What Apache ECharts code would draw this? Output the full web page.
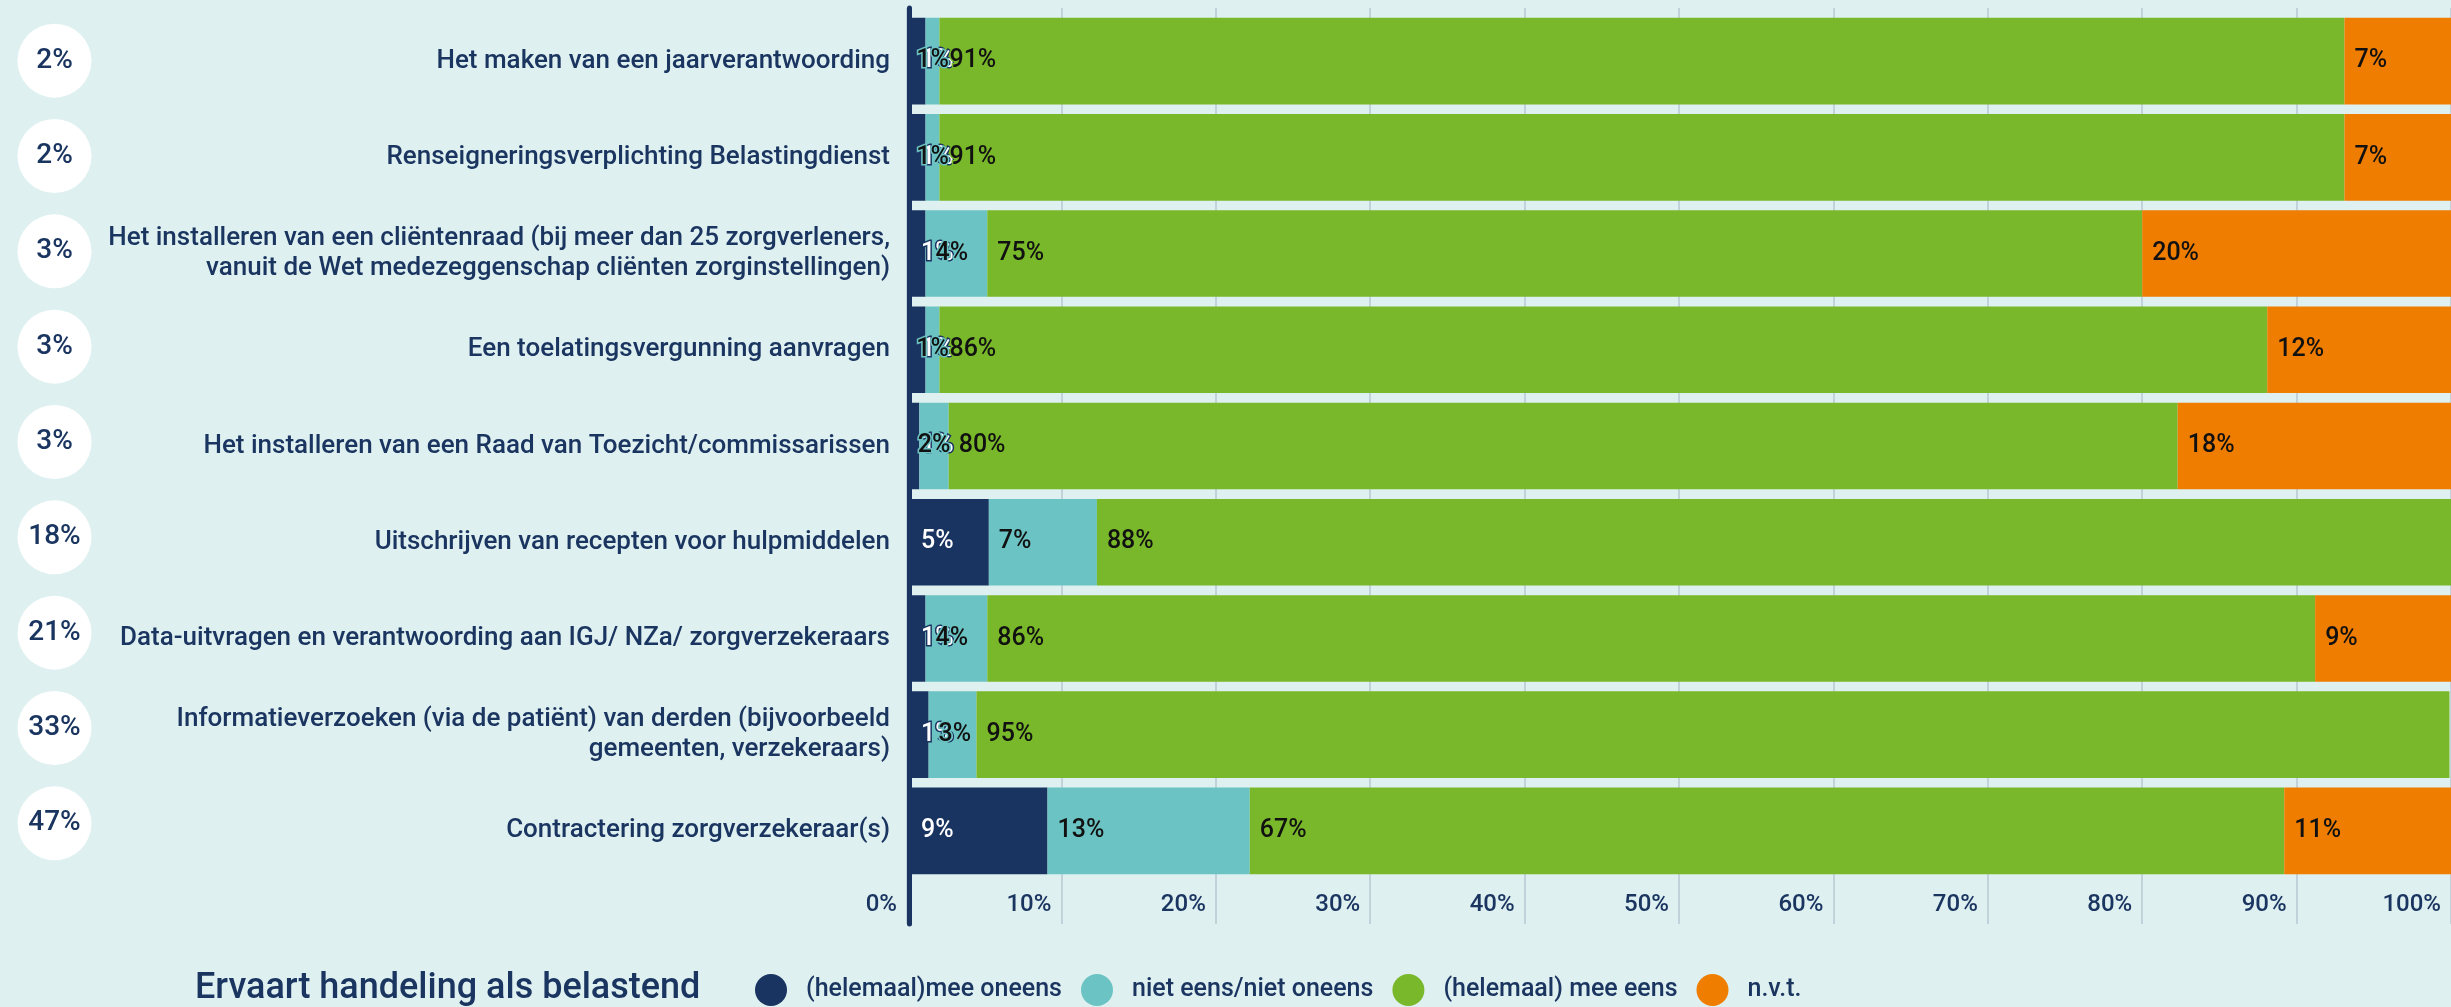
<!DOCTYPE html>
<html>
<head>
<meta charset="utf-8">
<script src="https://cdn.jsdelivr.net/npm/echarts@6/dist/echarts.min.js"></script>
<style>
  html, body { margin: 0; padding: 0; background: #dff0f0; }
  #chart { width: 2451px; height: 1007px; }
</style>
</head>
<body>
<div id="chart"></div>
<script>
const categories = [
  "Het maken van een jaarverantwoording",
  "Renseigneringsverplichting Belastingdienst",
  "Het installeren van een cliëntenraad (bij meer dan 25 zorgverleners,\nvanuit de Wet medezeggenschap cliënten zorginstellingen)",
  "Een toelatingsvergunning aanvragen",
  "Het installeren van een Raad van Toezicht/commissarissen",
  "Uitschrijven van recepten voor hulpmiddelen",
  "Data-uitvragen en verantwoording aan IGJ/ NZa/ zorgverzekeraars",
  "Informatieverzoeken (via de patiënt) van derden (bijvoorbeeld\ngemeenten, verzekeraars)",
  "Contractering zorgverzekeraar(s)"
];
// share that experiences the task as a burden (white circles)
const belastend = [2, 2, 3, 3, 3, 18, 21, 33, 47];

const seriesNames = ["(helemaal)mee oneens", "niet eens/niet oneens", "(helemaal) mee eens", "n.v.t."];
const meeOneens = [1.2, 1.2, 1.2, 1.2, 0.8, 5.3, 1.2, 1.4, 9.1];
const neutraal = [0.9, 0.9, 4.0, 0.9, 1.9, 7.0, 4.0, 3.1, 13.1];
const meeEens = [91.0, 91.0, 74.8, 86.0, 79.6, 87.7, 86.0, 95.4, 67.0];
const nvt = [6.9, 6.9, 20.0, 11.9, 17.7, 0, 8.8, 0, 10.8];

const tickValues = [0, 100, 10]; // min, max, interval

const navy = "#1a3461";
const textColor = "#1b3561";
const font = "Roboto";
const weight = 500;

function barSeries(name, values, color, labelColor, dist, centerSmall) {
  return {
    name: name,
    type: "bar",
    stack: "total",
    xAxisIndex: 0,
    yAxisIndex: 0,
    barCategoryGap: "10%",
    itemStyle: { color: color },
    label: {
      show: true,
      position: "insideLeft",
      distance: dist,
      color: labelColor,
      fontSize: 25,
      fontWeight: weight,
      fontFamily: font,
      textBorderColor: color,
      textBorderWidth: 3,
      formatter: (p) => (p.value > 0 ? Math.round(p.value) + "%" : "")
    },
    data: values.map((v) =>
      centerSmall && v < 2.5 ? { value: v, label: { position: "inside" } } : v
    )
  };
}

const chart = echarts.init(document.getElementById("chart"));

const option = {
  backgroundColor: "#dff0f0",
  animation: false,
  title: {
    text: "Ervaart handeling als belastend",
    left: 195,
    top: 971,
    padding: 0,
    textStyle: { fontSize: 36, fontWeight: weight, color: textColor, fontFamily: font, lineHeight: 36 }
  },
  legend: {
    data: seriesNames,
    left: 755,
    top: 974,
    padding: 0,
    icon: "circle",
    itemWidth: 32,
    itemHeight: 32,
    itemGap: 19,
    textStyle: { fontSize: 25, fontWeight: weight, color: textColor, fontFamily: font, padding: [0, 0, 0, 14] }
  },
  grid: [
    { left: 907, right: -2, top: 13, height: 866 },
    { left: 907, right: -2, top: 8, height: 916 },
    { left: 0, width: 109, top: 13, height: 858 }
  ],
  xAxis: [
    { gridIndex: 0, type: "value", min: tickValues[0], max: tickValues[1], show: false },
    {
      gridIndex: 1,
      type: "value",
      min: tickValues[0],
      max: tickValues[1],
      interval: tickValues[2],
      axisLine: { show: false },
      axisTick: { show: false },
      splitLine: { show: true, lineStyle: { color: "#c2d2da", width: 2 } },
      axisLabel: {
        inside: true,
        margin: 7,
        align: "right",
        padding: [0, 10, 0, 0],
        formatter: "{value}%",
        fontSize: 24,
        fontWeight: weight,
        color: textColor,
        fontFamily: font,
        showMinLabel: true,
        showMaxLabel: true
      }
    },
    { gridIndex: 2, type: "category", data: [""], show: false }
  ],
  yAxis: [
    {
      gridIndex: 0,
      type: "category",
      data: categories,
      inverse: true,
      axisLine: { show: false },
      axisTick: { show: false },
      axisLabel: { margin: 17, fontSize: 26, fontWeight: weight, lineHeight: 30, color: textColor, fontFamily: font }
    },
    {
      gridIndex: 1,
      type: "value",
      min: 0,
      max: 1,
      offset: -2.2,
      axisLine: { show: true, onZero: false, lineStyle: { color: navy, width: 5 } },
      axisTick: { show: false },
      axisLabel: { show: false },
      splitLine: { show: false }
    },
    { gridIndex: 2, type: "category", data: categories, inverse: true, show: false }
  ],
  series: [
    barSeries(seriesNames[0], meeOneens, navy, "#ffffff", 14, false),
    barSeries(seriesNames[1], neutraal, "#6cc3c3", "#111111", 10, true),
    barSeries(seriesNames[2], meeEens, "#79b82a", "#111111", 10, false),
    barSeries(seriesNames[3], nvt, "#ef7d00", "#111111", 10, false),
    {
      name: "belastend",
      type: "scatter",
      xAxisIndex: 2,
      yAxisIndex: 2,
      symbolSize: 74,
      silent: true,
      itemStyle: { color: "#ffffff", opacity: 1 },
      label: {
        show: true,
        position: "inside",
        formatter: (p) => p.data[2] + "%",
        fontSize: 28,
        fontWeight: weight,
        color: textColor,
        fontFamily: font
      },
      data: belastend.map((v, i) => [0, i, v])
    }
  ]
};

option && chart.setOption(option);
</script>
</body>
</html>
